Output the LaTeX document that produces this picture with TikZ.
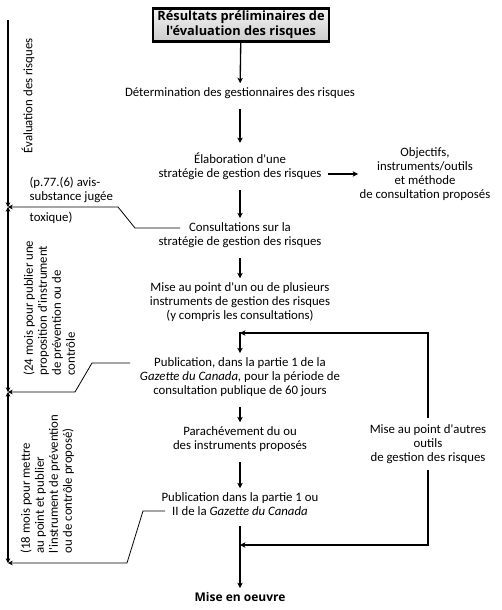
\documentclass[tikz,border=0pt]{standalone}
\usepackage{fontspec}
\setmainfont{Carlito}[Ligatures=TeXOff]
\newfontfamily\heavy{Open Sans}[Ligatures=TeXOff]
\usetikzlibrary{arrows.meta}

\begin{document}
\begin{tikzpicture}[x=0.75pt,y=-0.75pt,
  txt/.style={align=center,inner sep=1pt,font=\fontsize{9.6}{10.5}\selectfont},
  flow/.style={line width=1pt,-{Stealth[length=4pt,width=4pt,inset=1pt]},shorten <=7pt,shorten >=2pt},
  lead/.style={line width=0.6pt,-{Stealth[length=3.5pt,width=3.5pt,inset=1pt]}},
  span/.style={line width=0.8pt,{Stealth[length=3.5pt,width=3.5pt,inset=1pt]}-{Stealth[length=3.5pt,width=3.5pt,inset=1pt]}}]

\useasboundingbox (0,0) rectangle (502,610);

% Top box
\node[draw=black,line width=1.8pt,top color=gray!10,bottom color=gray!40,
  minimum width=132pt,minimum height=24.5pt,inner sep=0pt,align=center,
  font=\heavy\bfseries\fontsize{9.6}{11.3}\selectfont] (res) at (241,25)
  {Résultats préliminaires de\\l'évaluation des risques};

% Main column
\node[txt] (det) at (240,93) {Détermination des gestionnaires des risques};
\node[txt] (ela) at (240,166) {Élaboration d'une\\stratégie de gestion des risques};
\node[txt] (obj) at (425,174) {Objectifs,\\instruments/outils\\et méthode\\de consultation proposés};
\node[txt] (cons) at (240,235) {Consultations sur la\\stratégie de gestion des risques};
\node[txt] (mise) at (240,302) {Mise au point d'un ou de plusieurs\\instruments de gestion des risques\\(y compris les consultations)};
\node[txt] (pub1) at (240,377) {Publication, dans la partie 1 de la\\\textit{Gazette du Canada,} pour la période de\\consultation publique de 60 jours};
\node[txt] (para) at (240,439) {Parachévement du ou\\des instruments proposés};
\node[txt] (pub2) at (240,504) {Publication dans la partie 1 ou\\II de la \textit{Gazette du Canada}};
\node[txt,font=\heavy\bfseries\fontsize{9}{11}\selectfont] (oeuvre) at (240,597) {Mise en oeuvre};
\node[txt] (autres) at (428,444) {Mise au point d'autres\\outils\\de gestion des risques};

% Junctions
\coordinate (j1) at (240,333);
\coordinate (j2) at (240,545);
\coordinate (e2) at ([yshift=-6pt]ela.east);

% Main arrows
\draw[flow,shorten <=0pt] (res) -- (det);
\draw[flow,shorten >=6pt] (det) -- (ela);
\draw[flow] (ela) -- (cons);
\draw[flow] (cons) -- (mise);
\draw[flow] (mise) -- (pub1);
\draw[flow] (pub1) -- (para);
\draw[flow] (para) -- (pub2);
\draw[flow] (pub2) -- (oeuvre);
\draw[flow,shorten <=4pt,shorten >=0pt] (e2) -- (e2 -| obj.west);

% Feedback loop
\draw[flow,shorten <=4pt,shorten >=0pt] (autres.north) |- (j1);
\draw[flow,shorten <=4pt,shorten >=0pt] (autres.south) |- (j2);

% Left time line
\coordinate (t0) at (8,20);
\coordinate (t1) at (8,207);
\coordinate (t2) at (8,392);
\coordinate (t3) at (8,563);
\draw[line width=0.8pt,-{Stealth[length=3.5pt,width=3.5pt,inset=1pt]}] (t0) -- (t1);
\draw[span] (t1) -- (t2);
\draw[span] (t2) -- (t3);

% Leaders to the time line
\draw[lead] ([shift={(-60,-7)}]cons.center) -- (135,228) -- (118,207) -- (t1);
\draw[lead] ([shift={(-110,-14)}]pub1.center) -- (92,363) -- (75,392) -- (t2);
\draw[lead] ([shift={(-75,7)}]pub2.center) -- (143,511) -- (127,563) -- (t3);

% Left labels
\node[txt,align=left,anchor=west] (avis) at (28,190) {(p.77.(6) avis-\\substance jugée};
\node[txt,anchor=west] (tox) at (28,218) {toxique)};
\node[txt,rotate=90] (evalr) at (28,96) {Évaluation des risques};
\node[txt,rotate=90,align=left,anchor=north west] (d24) at (22,377)
  {(24 mois pour publier une\\proposition d'instrument\\de prévention ou de\\contrôle};
\node[txt,rotate=90,align=left,anchor=north west] (d18) at (19,555)
  {(18 mois pour mettre\\au point et publier\\l'instrument de prévention\\ou de contrôle proposé)};

\end{tikzpicture}
\end{document}
